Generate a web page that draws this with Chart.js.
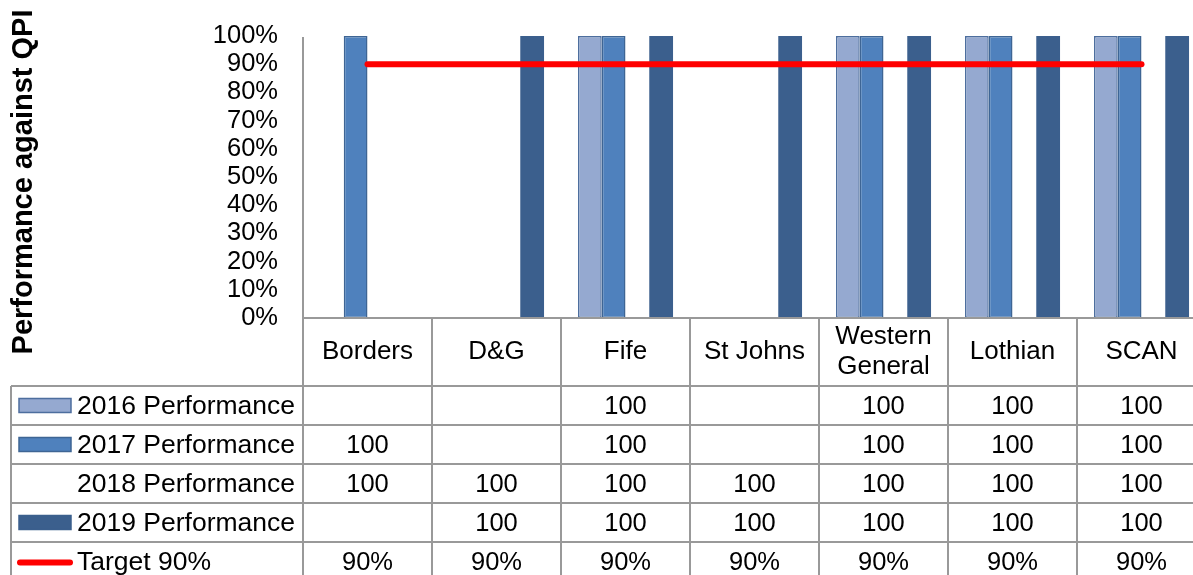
<!DOCTYPE html>
<html>
<head>
<meta charset="utf-8">
<script src="https://cdn.jsdelivr.net/npm/chart.js@4/dist/chart.umd.min.js"></script>
<style>
  html, body { margin: 0; padding: 0; background: #fff; overflow: hidden; width: 1193px; height: 575px; }
  #wrap { width: 1220px; height: 575px; }
</style>
</head>
<body>
<div id="wrap"><canvas id="c" width="1220" height="575"></canvas></div>
<script>
// Categories (multi-line labels are split into lines)
const categories = [['Borders'], ['D&G'], ['Fife'], ['St Johns'], ['Western', 'General'], ['Lothian'], ['SCAN']];

// Series values (% performance against the QPI)
const perf2016 = [null, null, 100, null, 100, 100, 100];
const perf2017 = [100, null, 100, null, 100, 100, 100];
const perf2018 = [100, 100, 100, 100, 100, 100, 100];
const perf2019 = [null, 100, 100, 100, 100, 100, 100];
const target90 = [90, 90, 90, 90, 90, 90, 90];

const seriesNames = ['2016 Performance', '2017 Performance', '2018 Performance', '2019 Performance', 'Target 90%'];

// Value axis ticks
const yTickValues = [0, 10, 20, 30, 40, 50, 60, 70, 80, 90, 100];
const yTickLabels = ['0%', '10%', '20%', '30%', '40%', '50%', '60%', '70%', '80%', '90%', '100%'];

const yTitle = 'Performance against QPI';

const FONT = '"Liberation Sans", Arial, sans-serif';
const GRID = '#999999';

// Draws the axis lines, the y-axis title and the data table beneath the plot
const dataTablePlugin = {
  id: 'dataTable',
  afterDraw(chart) {
    const ctx = chart.ctx;
    const xs = chart.scales.x;
    const area = chart.chartArea;
    const step = xs.getPixelForValue(1) - xs.getPixelForValue(0);
    const tableLeft = 11;
    const headerBottom = 386;
    const rowH = 39;
    const bottom = chart.height;

    ctx.save();
    ctx.strokeStyle = GRID;
    ctx.lineWidth = 2;
    ctx.beginPath();
    // value axis line running down through the table
    ctx.moveTo(area.left, area.top + 1); ctx.lineTo(area.left, bottom);
    // category axis line
    ctx.moveTo(area.left, area.bottom); ctx.lineTo(area.right, area.bottom);
    // column separators
    for (let i = 0; i < categories.length; i++) {
      const xr = xs.getPixelForValue(i) + step / 2;
      ctx.moveTo(xr, area.bottom); ctx.lineTo(xr, bottom);
    }
    // left border of the legend column
    ctx.moveTo(tableLeft, headerBottom); ctx.lineTo(tableLeft, bottom);
    // row separators
    for (let r = 0; r <= seriesNames.length; r++) {
      const y = headerBottom + r * rowH;
      ctx.moveTo(tableLeft, y); ctx.lineTo(area.right, y);
    }
    ctx.stroke();

    // category header
    ctx.fillStyle = '#000';
    ctx.textAlign = 'center';
    ctx.textBaseline = 'middle';
    ctx.font = '26px ' + FONT;
    const headMid = (area.bottom + headerBottom) / 2;
    categories.forEach((lines, i) => {
      const cx = xs.getPixelForValue(i);
      const lh = 30;
      lines.forEach((t, k) => {
        ctx.fillText(t, cx, headMid + (k - (lines.length - 1) / 2) * lh);
      });
    });

    // series rows
    chart.data.datasets.forEach((ds, r) => {
      const cy = headerBottom + r * rowH + rowH / 2;
      // legend key
      if (ds.type === 'line') {
        ctx.strokeStyle = ds.borderColor;
        ctx.lineWidth = 6;
        ctx.lineCap = 'round';
        ctx.beginPath();
        ctx.moveTo(20, cy + 1); ctx.lineTo(70, cy + 1);
        ctx.stroke();
      } else if (ds.backgroundColor !== 'rgba(0,0,0,0)') {
        ctx.fillStyle = ds.backgroundColor;
        ctx.fillRect(19, cy - 7, 52, 14);
        ctx.strokeStyle = ds.keyBorder;
        ctx.lineWidth = 1.5;
        ctx.strokeRect(19, cy - 7, 52, 14);
      }
      ctx.fillStyle = '#000';
      ctx.textAlign = 'left';
      ctx.font = '26.5px ' + FONT;
      ctx.fillText(ds.label, 77, cy + 1);
      ctx.textAlign = 'center';
      ctx.font = '25.5px ' + FONT;
      ds.data.forEach((v, i) => {
        if (v === null || v === undefined) return;
        const txt = ds.type === 'line' ? v + '%' : String(v);
        ctx.fillText(txt, xs.getPixelForValue(i), cy + 1);
      });
    });

    // y-axis title
    ctx.font = 'bold 29px ' + FONT;
    ctx.textAlign = 'center';
    ctx.textBaseline = 'alphabetic';
    ctx.translate(32, 182);
    ctx.rotate(-Math.PI / 2);
    ctx.fillText(yTitle, 0, 0);
    ctx.restore();
  }
};

const barBase = { type: 'bar', order: 1, borderWidth: 1.5, borderSkipped: false, categoryPercentage: 0.737, barPercentage: 1 };

new Chart(document.getElementById('c'), {
  data: {
    labels: categories.map(c => c.join(' ')),
    datasets: [
      Object.assign({}, barBase, { label: seriesNames[0], data: perf2016, backgroundColor: '#95A9D0', borderColor: '#4D6E9E', keyBorder: '#4D6E9E' }),
      Object.assign({}, barBase, { label: seriesNames[1], data: perf2017, backgroundColor: '#4F81BD', borderColor: '#3E6594', keyBorder: '#3E6594' }),
      Object.assign({}, barBase, { label: seriesNames[2], data: perf2018, backgroundColor: 'rgba(0,0,0,0)', borderColor: 'rgba(0,0,0,0)', borderWidth: 0 }),
      Object.assign({}, barBase, { label: seriesNames[3], data: perf2019, backgroundColor: '#3B5F8D', borderColor: '#3B5F8D', keyBorder: '#3B5F8D', borderWidth: 0 }),
      { type: 'line', order: 0, label: seriesNames[4], data: target90, borderColor: '#FF0000', backgroundColor: '#FF0000',
        borderWidth: 6, borderCapStyle: 'round', pointRadius: 0, fill: false, tension: 0 }
    ]
  },
  options: {
    responsive: false,
    devicePixelRatio: 1,
    animation: false,
    layout: { padding: { left: 0, right: 14, top: 36, bottom: 257 } },
    plugins: { legend: { display: false }, tooltip: { enabled: false }, title: { display: false } },
    scales: {
      x: { display: false, offset: true },
      y: {
        min: 0, max: 100,
        afterBuildTicks(scale) { scale.ticks = yTickValues.map(v => ({ value: v })); },
        afterFit(scale) { scale.width = 303; scale.paddingTop = 0; scale.paddingBottom = 0; },
        ticks: {
          autoSkip: false,
          padding: 25,
          color: '#000',
          font: { family: FONT, size: 25.5 },
          callback: (v) => yTickLabels[yTickValues.indexOf(v)]
        },
        grid: { display: false, drawTicks: false },
        border: { display: false }
      }
    }
  },
  plugins: [dataTablePlugin]
});
</script>
</body>
</html>
